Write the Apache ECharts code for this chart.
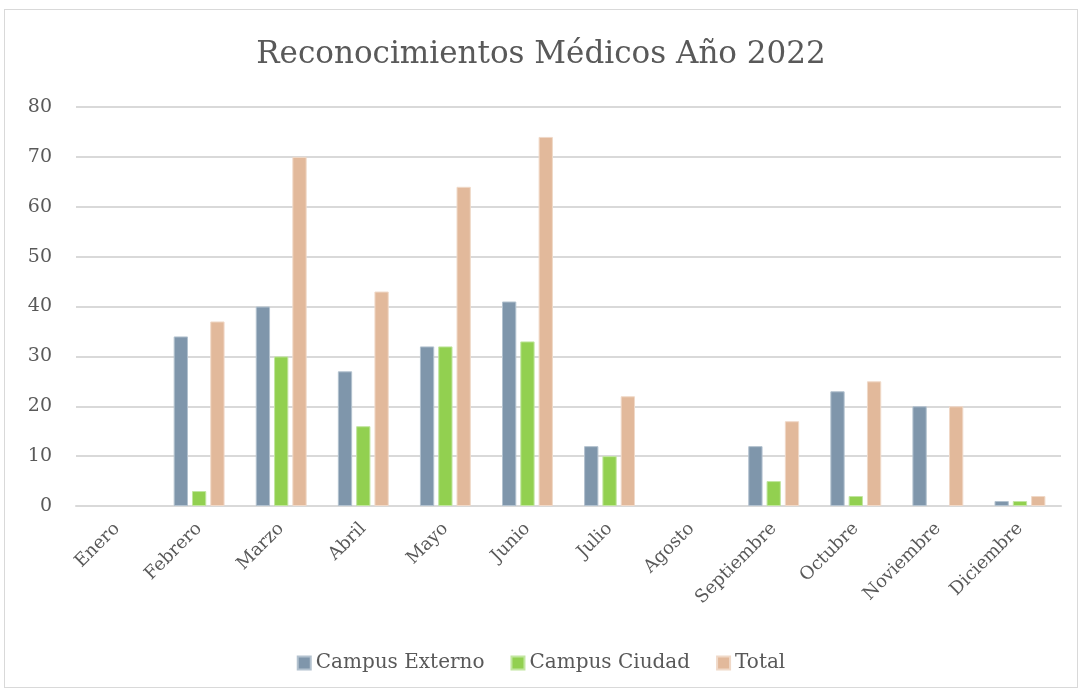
<!DOCTYPE html>
<html>
<head>
    <meta charset="utf-8">
    <title>Reconocimientos Médicos Año 2022</title>
    <script type="text/javascript" src="https://cdn.jsdelivr.net/npm/echarts@6/dist/echarts.min.js"></script>
    <style>
    html, body { margin: 0; padding: 0; background: #fff; }
    .main {
        position: absolute;
        left: 4px;
        top: 9px;
        width: 1074px;
        height: 679px;
        border: 1px solid #d9d9d9;
        box-sizing: border-box;
    }
    </style>
</head>
<body>
    <div id="main" class="main"></div>
    <script type="text/javascript">
    // datos
    const meses = ['Enero', 'Febrero', 'Marzo', 'Abril', 'Mayo', 'Junio', 'Julio', 'Agosto', 'Septiembre', 'Octubre', 'Noviembre', 'Diciembre'];
    const campusExterno = [0, 34, 40, 27, 32, 41, 12, 0, 12, 23, 20, 1];
    const campusCiudad = [0, 3, 30, 16, 32, 33, 10, 0, 5, 2, 0, 1];
    const total = [0, 37, 70, 43, 64, 74, 22, 0, 17, 25, 20, 2];

    const textColor = '#595959';
    const serif = '"DejaVu Serif", "Liberation Serif", serif';

    function barSerie(name, data, color, border) {
        return {
            name: name,
            type: 'bar',
            // los ceros no se dibujan (sin borde visible)
            data: data.map(function (v) { return v === 0 ? '-' : v; }),
            barGap: '28%',
            barCategoryGap: '38%',
            itemStyle: { color: color, borderColor: border, borderWidth: 1 }
        };
    }

    const myChart = echarts.init(document.getElementById('main'));
    const option = {
        animation: false,
        title: {
            text: 'Reconocimientos Médicos Año 2022',
            left: 'center',
            top: 24,
            textStyle: {
                fontFamily: serif,
                fontWeight: 'normal',
                fontSize: 31,
                color: textColor
            }
        },
        legend: {
            bottom: 9,
            left: 'center',
            itemWidth: 13,
            itemHeight: 13,
            itemGap: 26,
            icon: 'rect',
            textStyle: { fontFamily: serif, fontSize: 20, color: textColor },
            data: ['Campus Externo', 'Campus Ciudad', 'Total']
        },
        grid: {
            left: 71,
            right: 16,
            top: 97,
            bottom: 181
        },
        xAxis: {
            type: 'category',
            data: meses,
            axisTick: { show: false },
            axisLine: { lineStyle: { color: '#d9d9d9', width: 2 } },
            axisLabel: {
                rotate: 45,
                interval: 0,
                margin: 20,
                fontFamily: serif,
                fontSize: 18,
                color: textColor
            }
        },
        yAxis: {
            type: 'value',
            min: 0,
            max: 80,
            interval: 10,
            axisLine: { show: false },
            axisTick: { show: false },
            splitLine: { lineStyle: { color: '#d9d9d9', width: 2 } },
            axisLabel: {
                margin: 24,
                fontFamily: serif,
                fontSize: 19,
                color: textColor
            }
        },
        series: [
            barSerie('Campus Externo', campusExterno, '#7f96ab', '#b3c2cf'),
            barSerie('Campus Ciudad', campusCiudad, '#92d050', '#c2e6a0'),
            barSerie('Total', total, '#e2b99b', '#f0d9c8')
        ]
    };
    myChart.setOption(option);
    </script>
</body>
</html>
